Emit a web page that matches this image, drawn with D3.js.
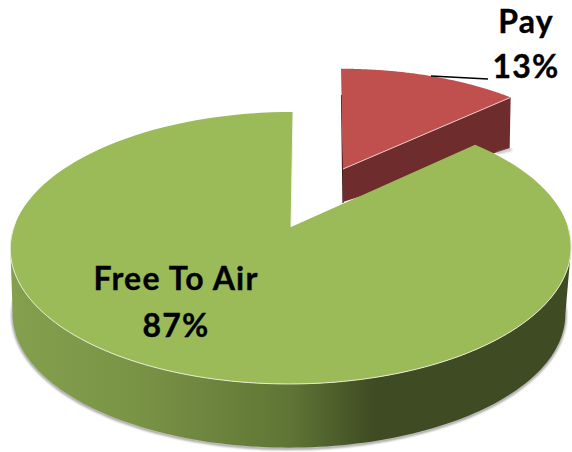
<!DOCTYPE html>
<html><head><meta charset="utf-8">
<script src="https://cdn.jsdelivr.net/npm/d3@7"></script>
<style>html,body{margin:0;padding:0;background:#fff}svg{display:block}text{font-family:Lato,"Open Sans",sans-serif;font-weight:700;fill:#000;stroke:#000;stroke-width:.35px;letter-spacing:1.2px}</style>
</head><body><svg id="c" width="572" height="452"></svg>
<script>
const categories = ["Pay", "Free To Air"];
const values = [13, 87];
const percentLabels = ["13%", "87%"];
const topColors = ["#c0504d", "#9bbb59"];

const svg = d3.select("#c");
const defs = svg.append("defs");
const grad = defs.append("linearGradient").attr("id","wall").attr("gradientUnits","userSpaceOnUse")
  .attr("x1",10).attr("x2",570).attr("y1",0).attr("y2",0);
[[0,"#84a04e"],[0.22,"#7a9446"],[0.5,"#5f7535"],[0.65,"#3f4b23"],[1,"#3f4b23"]]
  .forEach(([o,c])=>grad.append("stop").attr("offset",o).attr("stop-color",c));
defs.append("filter").attr("id","blur").append("feGaussianBlur").attr("stdDeviation",1);

const arcs = d3.pie().sort(null).value(d=>d)(values);
const k = 0.154;
// perspective projection of a disc: angle measured clockwise from top
function proj(a, o){
  const u=Math.sin(a), v=Math.cos(a), w=1+k*v;
  return [o.x+o.s*o.rx*u/w+o.t*v, o.y-o.s*o.ry*v/w];
}
const topG  = {x:291,y:227,rx:277,ry:132.8,s:1,t:2};
const botG  = {x:289,y:294,rx:273,ry:130,s:1,t:0};
const topR  = {x:343,y:169,rx:288,ry:130,s:0.89,t:-2};
const line = d3.line();
const sample=(a0,a1,o)=>d3.range(0,121).map(i=>proj(a0+(a1-a0)*i/120,o));

const [pay, fta] = arcs;
const rad=Math.PI/180;

// shadow under green wall
const wallPts=[...sample(99*rad,261*rad,topG),...sample(261*rad,99*rad,botG)];
svg.append("path").attr("d",line(sample(92*rad,268*rad,botG))).attr("fill","none")
  .attr("stroke","#9a9a9a").attr("stroke-width",2.5).attr("filter","url(#blur)").attr("transform","translate(0,1)");

// red exploded wedge: cut face and small dark rim, behind green
const payEnd=proj(pay.endAngle,topR), payApex=[topR.x,topR.y];
const redDepthApex=33, redDepthEnd=51;
svg.append("line").attr("x1",339.5).attr("x2",339.5).attr("y1",118).attr("y2",200)
  .attr("stroke","#aaa").attr("stroke-width",1.5).attr("filter","url(#blur)");
svg.append("line").attr("x1",341.5).attr("x2",343).attr("y1",95).attr("y2",203)
  .attr("stroke","#4a1f1e").attr("stroke-width",1.2);
svg.append("path").attr("d",line([payApex,payEnd,[payEnd[0]-1,payEnd[1]+redDepthEnd],[payApex[0],payApex[1]+redDepthApex]])+"Z")
  .attr("fill","#6e2d2c");
svg.append("path").attr("d",line([[payEnd[0]-14,payEnd[1]+56],[payEnd[0]+1,payEnd[1]+52]]))
  .attr("stroke","#aaa").attr("stroke-width",2).attr("filter","url(#blur)");
svg.append("path").attr("d",line([payApex,...sample(pay.startAngle,pay.endAngle,topR)])+"Z")
  .attr("fill",topColors[0]);
svg.append("path").attr("d",line([payApex,payEnd])).attr("stroke","#e6c9c8").attr("stroke-width",1).attr("fill","none");

// gap shadow next to the green cut edge
svg.append("line").attr("x1",297.5).attr("x2",297.5).attr("y1",163).attr("y2",222)
  .attr("stroke","#999").attr("stroke-width",1.5).attr("filter","url(#blur)");

// green wall and top
svg.append("path").attr("d",line(wallPts)+"Z").attr("fill","url(#wall)");
const greenApex=[topG.x,topG.y];
svg.append("path").attr("d",line([greenApex,...sample(fta.startAngle,fta.endAngle,topG)])+"Z")
  .attr("fill",topColors[1]);
svg.append("path").attr("d",line(sample(90*rad,272*rad,topG))).attr("fill","none")
  .attr("stroke","#e4ebd2").attr("stroke-width",1);
svg.append("path").attr("d",line([greenApex,proj(fta.endAngle,topG)])).attr("fill","none")
  .attr("stroke","#f2f5e6").attr("stroke-width",1);

// leader
svg.append("path").attr("d",line([[431,76],[488,79]])).attr("stroke","#000").attr("stroke-width",1.6).attr("fill","none");

// labels
const labelPos=[{x:526,y:[33,78]},{x:176,y:[290,337]}];
categories.forEach((c,i)=>{
  svg.append("text").attr("x",labelPos[i].x).attr("y",labelPos[i].y[0]).attr("text-anchor","middle").attr("font-size",32).text(c);
  svg.append("text").attr("x",labelPos[i].x).attr("y",labelPos[i].y[1]).attr("text-anchor","middle").attr("font-size",32).text(percentLabels[i]);
});
</script></body></html>
